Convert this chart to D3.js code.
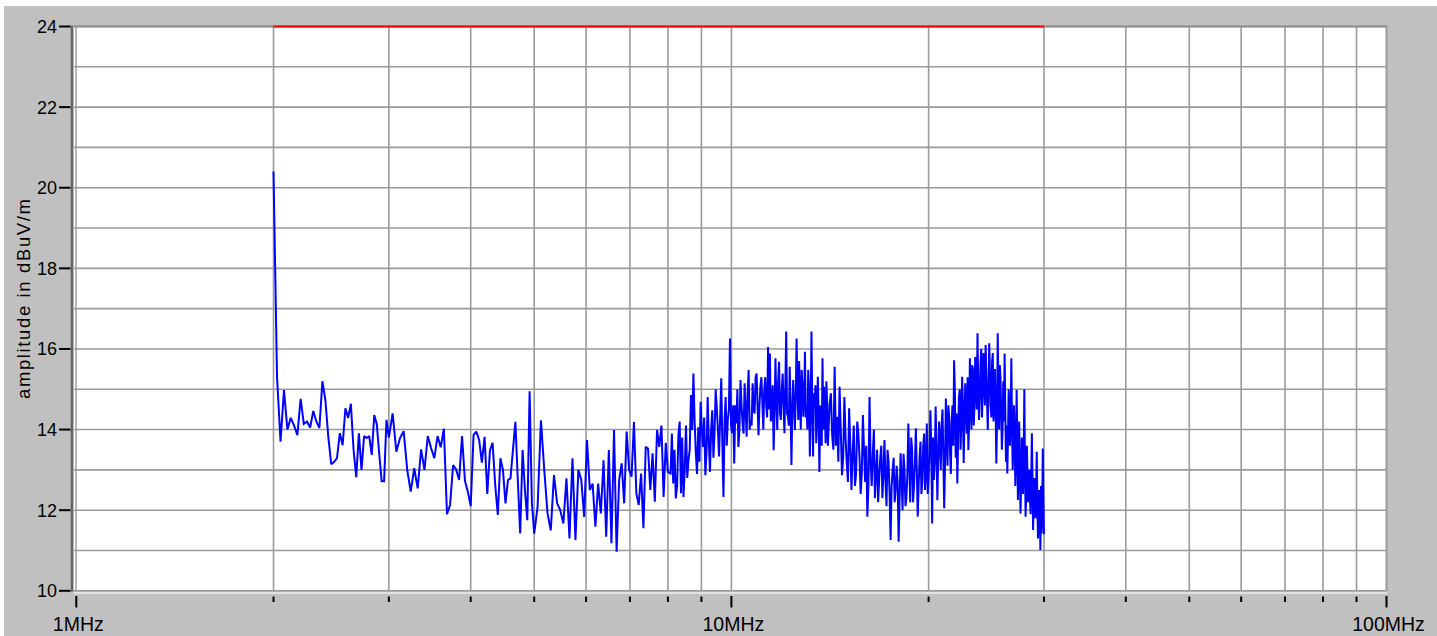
<!DOCTYPE html>
<html><head><meta charset="utf-8">
<script src="https://cdn.jsdelivr.net/npm/d3@7"></script>
<style>html,body{margin:0;padding:0;background:#fff;} svg{display:block;font-family:"Liberation Sans",Arial,sans-serif;}</style>
</head><body><svg id="chart" width="1437" height="636"></svg>
<script>
// ---- data ----
// Linear frequency sweep segments (start MHz, step MHz) and measured levels in dBuV/m
const sweepStartsMHz = [2.0, 3.04, 5.06, 8.075, 14.125, 8.1125, 14.1875];
const sweepStepsMHz  = [0.025, 0.04, 0.06, 0.075, 0.125, 0.075, 0.125];
const levelA = [20.4,15.3,13.7,14.98,14.0,14.29,14.1,13.86,14.76,14.14,14.2,14.05,14.46,14.2,14.04,15.2,14.73,13.81,13.14,13.2,13.29,13.91,13.61,14.53,14.29,14.64,13.5,12.82,13.91,13.0,13.84,13.79,13.84,13.37,14.36,14.14,13.4,12.72,12.72,14.24,13.8];
const levelB = [14.4,13.45,13.79,13.96,13.0,12.46,13.04,12.54,13.51,13.0,
  13.84,13.54,13.29,13.84,13.56,14.02,11.9,12.13,13.12,13.01,
  12.75,13.84,12.73,12.46,12.1,13.86,13.95,13.75,13.18,13.82,
  12.4,13.49,13.67,12.62,11.88,13.29,13.0,12.17,12.75,12.79,
  13.49,14.19,12.75,11.42,13.49,12.5,11.75,14.95,12.17,11.42];
const levelC = [12.08,14.23,13.0,11.92,11.5,12.87,12.17,12.0,11.67,12.79,
  11.3,13.29,11.26,13.0,12.75,11.83,13.74,12.5,12.66,11.59,
  12.66,11.92,13.24,11.34,13.49,11.18,13.99,10.97,12.75,13.16,
  12.17,13.95,13.0,12.83,14.19,12.42,12.13,12.91,11.55,13.57,
  13.53,12.5,13.41,12.21,13.99,13.57,14.1,12.33,13.67,12.95];
const levelD = [12.91,12.66,12.29,13.86,12.42,12.33,14.1,13.24,14.86,15.39,
  13.41,14.06,14.69,13.57,12.87,14.81,12.95,14.48,13.91,14.53,
  13.33,15.27,12.33,14.81,14.24,16.26,13.91,13.16,14.15,13.57,
  15.23,14.15,15.15,13.82,15.48,14.24,15.15,14.4,15.39,13.86,
  15.1,14.65,14.98,14.61,16.05,15.89,14.48,13.49,15.77,13.99,
  15.68,14.24,15.39,13.91,16.43,14.32,15.56,13.12,15.23,13.99,
  16.26,14.24,14.81,15.48,14.32,15.93,14.57,15.48,13.33,16.43,
  13.33,14.65,13.66,15.31,12.95,13.99,15.77,15.06,13.66,14.65];
const levelE = [14.65,13.86,15.56,14.32,15.06,12.87,14.81,13.16,14.53,12.5,
  14.1,12.9,13.9,12.4,14.36,12.7,11.84,14.81,12.6,14.0,
  12.9,12.2,13.3,12.3,13.74,12.1,13.2,11.26,13.0,12.2,
  13.1,11.22,13.41,12.0,13.0,12.3,14.15,12.2,13.5,12.6,
  14.03,11.84,13.3,12.4,13.6,12.5,14.15,12.8,14.48,11.67,
  12.75,14.57,12.25,14.2,13.0,14.5,12.05,14.77,13.1,14.3,
  12.9,14.6,15.72,13.3,12.66,14.8,13.5,15.31,13.17,15.15,
  13.9,13.49,15.77,14.0,15.5,14.6,15.2,16.39,14.24,15.6,
  14.3,15.9,14.6,15.4,13.99,16.14,14.6,15.7,14.2,15.5,
  13.16,16.39,14.0,15.3,13.5,15.2,15.89,13.2,12.91,15.0,
  13.6,15.77,13.0,14.6,12.6,14.99,12.25,14.2,11.92,13.8,
  12.4,15.0,11.84,13.6,12.2,13.0,11.9,13.91,11.51,12.8,
  11.8,13.45,11.3,12.5,11.01,11.42,13.53,11.4];
// interleaved samples of the dense 8-30 MHz part
const levelD2 = [13.9,13.5,12.6,14.2,13.8,13.0,12.8,13.5,13.99,14.2,
  12.9,13.2,14.0,14.3,13.4,13.7,14.0,13.3,15.0,14.0,
  14.3,13.6,14.2,13.6,14.5,14.1,14.6,14.6,15.0,14.0,
  14.6,13.9,14.5,14.9,14.0,14.1,14.5,15.3,14.6,14.6,
  15.3,14.0,15.3,14.3,14.5,14.2,15.1,14.4,14.7,15.2,
  14.4,15.0,14.6,15.1,14.4,14.1,14.5,14.5,14.6,14.8,
  15.0,15.7,14.0,15.1,14.8,14.3,14.0,15.0,14.4,14.6,
  14.9,15.1,14.2,14.4,14.6,13.6,14.0,14.6,15.2,13.6];
const levelE2 = [14.9,13.5,13.6,13.2,14.0,13.3,13.8,12.7,13.6,13.4,
  12.6,14.2,13.3,12.9,13.5,13.6,12.6,13.2,13.4,12.3,
  13.5,12.8,13.6,12.9,12.7,13.5,12.4,12.6,13.3,12.5,
  12.7,12.3,12.8,13.4,12.1,12.9,13.1,13.8,12.2,13.2,
  13.0,12.6,13.7,12.7,13.9,13.0,12.4,13.4,13.6,13.8,
  13.2,13.5,13.3,13.7,14.1,13.4,13.1,13.9,14.6,13.5,
  14.2,13.6,14.9,14.4,13.8,15.0,14.1,14.6,14.3,14.5,
  15.3,14.2,14.8,15.6,14.1,15.8,14.5,15.1,14.8,16.0,
  14.9,15.3,16.1,14.7,15.0,15.4,14.3,15.9,14.5,14.6,
  14.2,15.1,15.6,14.4,14.0,14.2,14.5,14.1,13.8,14.5,
  14.3,14.2,13.6,13.9,13.2,13.8,13.4,12.9,12.6,13.2,
  13.3,13.1,12.4,12.9,12.6,12.3,12.7,12.9,12.2,12.4,
  12.6,12.1,11.7,12.2,12.6,11.9,12.3];
const limitFreqsMHz = [2, 30];
const limitLevels = [24, 24];
const yGridLevels = [10,11,12,13,14,15,16,17,18,19,20,21,22,23,24];
const yTickLevels = [10,12,14,16,18,20,22,24];
const xGridFreqs = [2,3,4,5,6,7,8,9,10,20,30,40,50,60,70,80,90];
const xMajorFreqs = [1,10,100];
const xMinorFreqs = [2,3,4,5,6,7,8,9,20,30,40,50,60,70,80,90];
const xTickLabels = ["1MHz","10MHz","100MHz"];
const yTitle = "amplitude in dBuV/m";

// ---- build series ----
const levelSets = [levelA, levelB, levelC, levelD, levelE, levelD2, levelE2];
const trace = [];
levelSets.forEach((vals, s) => {
  vals.forEach((v, i) => trace.push({f: sweepStartsMHz[s] + i * sweepStepsMHz[s], v}));
});
trace.sort((a, b) => a.f - b.f);
const limit = limitFreqsMHz.map((f, i) => ({f, v: limitLevels[i]}));

// ---- drawing ----
const W = 1437, H = 636;
const svg = d3.select("#chart");
const x = d3.scaleLog().domain([1, 100]).range([76.3, 1386.5]);
const y = d3.scaleLinear().domain([10, 24]).range([590.8, 26.5]);

svg.append("rect").attr("x", 4).attr("y", 6).attr("width", W - 4).attr("height", H - 6).attr("fill", "#c0c0c0");
svg.append("rect").attr("x", 73.5).attr("y", y(24)).attr("width", x(100) - 73.5).attr("height", y(10) - y(24)).attr("fill", "#ffffff");

svg.append("line").attr("x1", 73.5).attr("x2", x(100) + 1).attr("y1", y(10) + 2.3).attr("y2", y(10) + 2.3)
  .attr("stroke", "#e2e2e2").attr("stroke-width", 2);

const grid = svg.append("g");
grid.selectAll("line.h").data(yGridLevels).join("line").attr("class", "h")
  .attr("x1", 74).attr("x2", x(100)).attr("y1", d => y(d)).attr("y2", d => y(d))
  .attr("stroke", "#9a9a9a").attr("stroke-width", 1.6);
grid.selectAll("line.v").data(xGridFreqs).join("line").attr("class", "v")
  .attr("x1", d => x(d)).attr("x2", d => x(d)).attr("y1", y(24)).attr("y2", y(10))
  .attr("stroke", "#9a9a9a").attr("stroke-width", 1.6);
grid.append("line").attr("x1", 74).attr("x2", x(100) + 1).attr("y1", y(24)).attr("y2", y(24)).attr("stroke", "#8c8c8c").attr("stroke-width", 2);
grid.append("line").attr("x1", x(100)).attr("x2", x(100)).attr("y1", y(24)).attr("y2", y(10)).attr("stroke", "#9a9a9a").attr("stroke-width", 2);
grid.append("line").attr("x1", 76).attr("x2", 76).attr("y1", y(24)).attr("y2", y(10)).attr("stroke", "#9a9a9a").attr("stroke-width", 1.4);
svg.append("line").attr("x1", 72).attr("x2", 72).attr("y1", y(24) - 1).attr("y2", y(10) + 1)
  .attr("stroke", "#666666").attr("stroke-width", 2.6);

svg.selectAll("line.yt").data(yTickLevels).join("line").attr("class", "yt")
  .attr("x1", 59).attr("x2", 70.5).attr("y1", d => y(d)).attr("y2", d => y(d))
  .attr("stroke", "#000").attr("stroke-width", 2);
svg.selectAll("text.yl").data(yTickLevels).join("text").attr("class", "yl")
  .attr("x", 57).attr("y", d => y(d)).attr("dy", "0.36em").attr("text-anchor", "end")
  .attr("font-size", 18).attr("fill", "#000").text(d => d);

svg.selectAll("line.xmaj").data(xMajorFreqs).join("line").attr("class", "xmaj")
  .attr("x1", d => x(d)).attr("x2", d => x(d)).attr("y1", 596).attr("y2", 607.5)
  .attr("stroke", "#000").attr("stroke-width", 2);
svg.selectAll("line.xmin").data(xMinorFreqs).join("line").attr("class", "xmin")
  .attr("x1", d => x(d)).attr("x2", d => x(d)).attr("y1", 596.5).attr("y2", 602)
  .attr("stroke", "#000").attr("stroke-width", 2);
svg.selectAll("text.xl").data(xMajorFreqs).join("text").attr("class", "xl")
  .attr("x", d => x(d) + 2).attr("y", 631).attr("text-anchor", "middle")
  .attr("font-size", 19.5).attr("fill", "#000").text((d, i) => xTickLabels[i]);

svg.append("text").attr("transform", "translate(24,299) rotate(-90)")
  .attr("text-anchor", "middle").attr("dy", "0.35em").attr("font-size", 18.5)
  .attr("textLength", 200).attr("lengthAdjust", "spacing")
  .attr("fill", "#000").text(yTitle);

svg.append("clipPath").attr("id", "plotclip").append("rect")
  .attr("x", 74).attr("y", y(24) - 2).attr("width", x(100) - 74).attr("height", y(10) - y(24) + 3);
const line = d3.line().x(d => x(d.f)).y(d => y(d.v));
const plot = svg.append("g").attr("clip-path", "url(#plotclip)");
plot.append("path").datum(trace).attr("d", line).attr("fill", "none")
  .attr("stroke", "#0000ff").attr("stroke-width", 2).attr("stroke-linejoin", "miter").attr("stroke-miterlimit", 2);
plot.append("path").datum(limit).attr("d", line).attr("fill", "none")
  .attr("stroke", "#ff0000").attr("stroke-width", 2.2);
</script>
</body></html>
